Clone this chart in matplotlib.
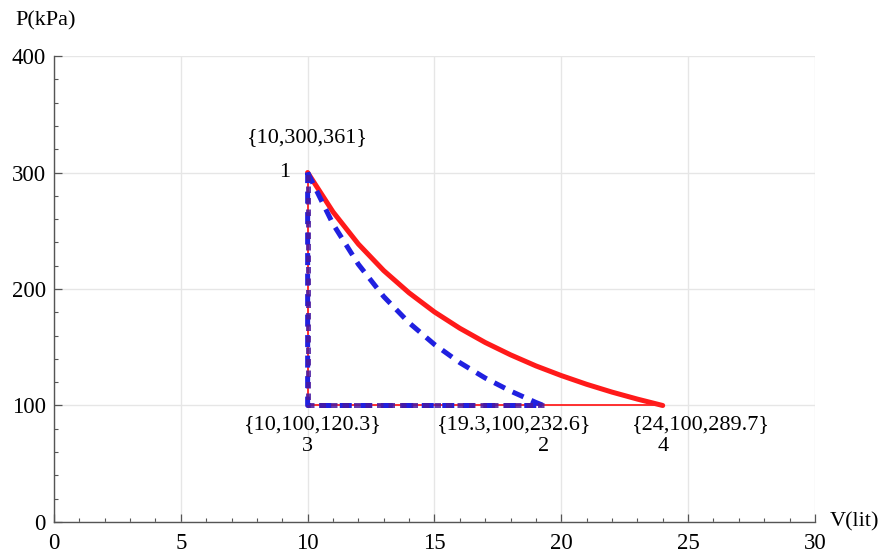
import matplotlib
matplotlib.use("Agg")
import matplotlib.pyplot as plt
from matplotlib.ticker import MultipleLocator

plt.rcParams['font.family'] = ['Liberation Serif', 'DejaVu Serif']

# Red process 1 -> 4
red_V = [10, 11, 12, 13, 14, 15, 16, 17, 18, 19, 20, 21, 22, 23, 24]
red_P = [300, 266.2, 238.6, 215.8, 196.7, 180.3, 166.3, 154.1, 143.5, 134.0, 125.7, 118.2, 111.5, 105.5, 100]
# Blue process 1 -> 2
blue_V = [10, 11, 12, 13, 14, 15, 16, 17, 18, 19, 19.3]
blue_P = [300, 255.8, 221.2, 193.5, 171.0, 152.4, 136.8, 123.6, 112.4, 102.6, 100]

# State points
pt_names = ["1", "2", "3", "4"]
pt_V = [10, 19.3, 10, 24]
pt_P = [300, 100, 100, 100]
pt_T = ["361", "232.6", "120.3", "289.7"]

fig = plt.figure(figsize=(8.8, 5.55), dpi=100)
ax = fig.add_axes([0.0614, 0.0595, 0.8646, 0.8395])

# red cycle
ax.plot(red_V, red_P, color='#ff1a1a', lw=3.6, solid_capstyle='round', zorder=3)
ax.plot([pt_V[3], pt_V[2], pt_V[0]], [pt_P[3], pt_P[2], pt_P[0]], color='#ff2020', lw=1.3, zorder=3)

# blue cycle
bV = blue_V + [pt_V[2], pt_V[0]]
bP = blue_P + [pt_P[2], pt_P[0]]
ax.plot(bV, bP, color='#2020e0', lw=3.6, linestyle=(0, (2.4, 1.7)), dash_capstyle='butt', zorder=4)
ax.plot([pt_V[1], pt_V[2], pt_V[0]], [pt_P[1], pt_P[2], pt_P[0]], color='#4a1aa0', lw=3.6,
        linestyle=(0, (1.3, 1.0)), zorder=4, alpha=0.85)

ax.set_xlim(0, 30)
ax.set_ylim(0, 400)
ax.xaxis.set_major_locator(MultipleLocator(5))
ax.xaxis.set_minor_locator(MultipleLocator(1))
ax.yaxis.set_major_locator(MultipleLocator(100))
ax.yaxis.set_minor_locator(MultipleLocator(20))

for s in ['top', 'right']:
    ax.spines[s].set_visible(False)
for s in ['left', 'bottom']:
    ax.spines[s].set_color('#555555')
    ax.spines[s].set_linewidth(1.0)

ax.tick_params(which='major', direction='in', length=6, width=0.9, color='#555555',
               labelsize=16.5)
ax.tick_params(axis='x', which='major', pad=8)
ax.tick_params(axis='y', which='major', pad=6)
ax.tick_params(which='minor', direction='in', length=3, width=0.8, color='#555555')
ax.grid(True, which='major', color='#e6e6e6', lw=1.0, zorder=0)
ax.set_axisbelow(True)

# labels
fs = 16
ax.text(10, 322, "{%g,%g,%s}" % (pt_V[0], pt_P[0], pt_T[0]), ha='center', va='bottom', fontsize=fs)
ax.text(9.1, 300, pt_names[0], ha='center', va='center', fontsize=fs)

ax.text(10.2, 92, "{%g,%g,%s}" % (pt_V[2], pt_P[2], pt_T[2]), ha='center', va='top', fontsize=fs)
ax.text(10, 73, pt_names[2], ha='center', va='top', fontsize=fs)

ax.text(18.15, 92, "{%g,%g,%s}" % (pt_V[1], pt_P[1], pt_T[1]), ha='center', va='top', fontsize=fs)
ax.text(19.3, 73, pt_names[1], ha='center', va='top', fontsize=fs)

ax.text(25.5, 92, "{%g,%g,%s}" % (pt_V[3], pt_P[3], pt_T[3]), ha='center', va='top', fontsize=fs)
ax.text(24, 73, pt_names[3], ha='center', va='top', fontsize=fs)

fig.text(0.017, 0.962, "P(kPa)", ha='left', va='center', fontsize=16)
fig.text(0.943, 0.06, "V(lit)", ha='left', va='center', fontsize=16)

fig.savefig("out.png", dpi=100)
